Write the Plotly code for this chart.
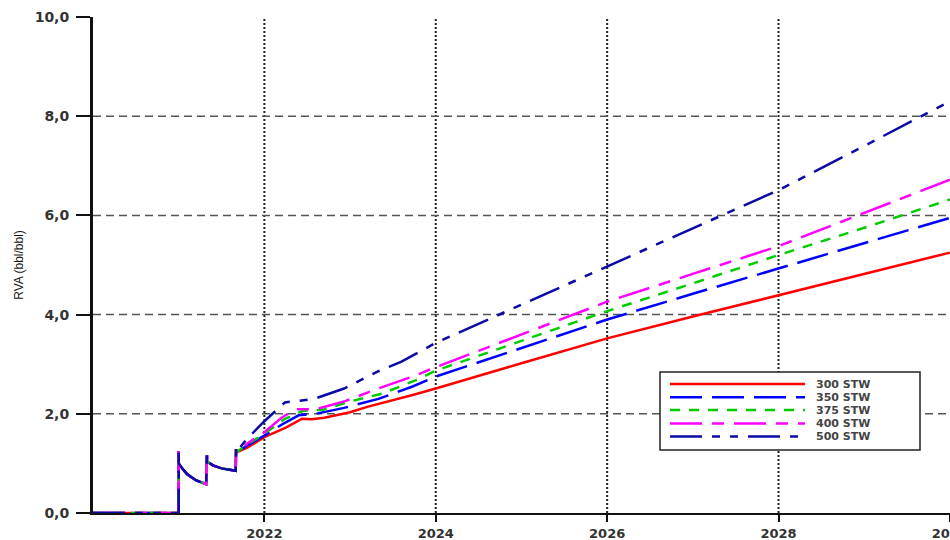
import plotly.graph_objects as go

# ---------------- data ----------------
series_names = ["300 STW", "350 STW", "375 STW", "400 STW", "500 STW"]

# shared start-up part (all cases identical)
early_x = [2020.0, 2021.0, 2021.0, 2021.0, 2021.05, 2021.1, 2021.2, 2021.32,
           2021.33, 2021.33, 2021.4, 2021.5, 2021.665, 2021.67, 2021.67]
early_y = [0.0, 0.0, 1.25, 1.0, 0.88, 0.78, 0.66, 0.58,
           1.17, 1.04, 0.96, 0.9, 0.85, 1.29, 1.22]

x_300 = [2021.8, 2022.0, 2022.25, 2022.44, 2022.55, 2022.7, 2023.0, 2023.2, 2023.73,
         2024, 2025, 2026, 2027, 2028, 2029, 2030]
y_300 = [1.32, 1.53, 1.72, 1.9, 1.89, 1.92, 2.03, 2.14, 2.38,
         2.51, 3.02, 3.52, 3.96, 4.39, 4.82, 5.25]

x_350 = [2021.8, 2022.0, 2022.2, 2022.4, 2022.6, 2022.93, 2023.33, 2023.73,
         2024, 2025, 2026, 2027, 2028, 2029, 2030]
y_350 = [1.36, 1.56, 1.78, 1.97, 2.0, 2.12, 2.3, 2.55,
         2.75, 3.33, 3.9, 4.42, 4.93, 5.43, 5.95]

x_375 = [2021.8, 2022.0, 2022.24, 2022.45, 2022.68, 2022.98, 2023.38, 2023.77,
         2024, 2025, 2026, 2027, 2028, 2029, 2030]
y_375 = [1.38, 1.6, 1.9, 2.06, 2.08, 2.24, 2.41, 2.68,
         2.87, 3.47, 4.07, 4.63, 5.2, 5.75, 6.32]

x_400 = [2021.8, 2022.0, 2022.2, 2022.36, 2022.6, 2022.95, 2023.33, 2023.73,
         2024, 2025, 2026, 2027, 2028, 2029, 2030]
y_400 = [1.4, 1.63, 1.92, 2.09, 2.09, 2.26, 2.51, 2.75,
         2.94, 3.6, 4.26, 4.82, 5.38, 6.05, 6.72]

x_500 = [2021.8, 2022.0, 2022.24, 2022.58, 2022.93, 2023.32, 2023.6, 2023.9,
         2024, 2025, 2026, 2027, 2028, 2029, 2030]
y_500 = [1.5, 1.85, 2.23, 2.3, 2.51, 2.85, 3.05, 3.34,
         3.43, 4.2, 4.97, 5.74, 6.51, 7.4, 8.3]

x_tick_vals = [2022, 2024, 2026, 2028, 2030]
x_tick_text = ["2022", "2024", "2026", "2028", "2030"]
y_tick_vals = [0, 2, 4, 6, 8, 10]
y_title = "RVA (bbl/bbl)"

# ---------------- styles ----------------
colors = ["#ff0000", "#0000ff", "#00cc00", "#ff00ff", "#0a0aa8"]
dashes = ["solid", "32px,10px", "10px,9px", "32px,10px,12px,10px", "32px,10px,8px,10px,8px,10px"]

xs = [x_300, x_350, x_375, x_400, x_500]
ys = [y_300, y_350, y_375, y_400, y_500]

fig = go.Figure()
for name, x, y, c, d in zip(series_names, xs, ys, colors, dashes):
    fig.add_trace(go.Scatter(
        x=early_x + x, y=early_y + y, name=name, mode="lines",
        line=dict(color=c, width=2.5, dash=d), showlegend=False,
    ))

shapes = []
# grid lines
for xv in x_tick_vals[:-1]:
    shapes.append(dict(type="line", xref="x", yref="paper", x0=xv, x1=xv, y0=0, y1=1,
                       line=dict(color="#222222", width=2, dash="2px,2px"), layer="below"))
for yv in y_tick_vals[1:-1]:
    shapes.append(dict(type="line", xref="paper", yref="y", x0=0, x1=1, y0=yv, y1=yv,
                       line=dict(color="#555555", width=1.5, dash="8px,5px"), layer="below"))

# manual legend box
lx0, lx1, ly0, ly1 = 0.6616, 0.965, 0.127, 0.2843
shapes.append(dict(type="rect", xref="paper", yref="paper", x0=lx0, x1=lx1, y0=ly0, y1=ly1,
                   line=dict(color="#222222", width=1.5), fillcolor="white", layer="above"))
annotations = []
row_y = [0.260, 0.2335, 0.2075, 0.1805, 0.1540]
for name, c, d, ry in zip(series_names, colors, dashes, row_y):
    shapes.append(dict(type="line", xref="paper", yref="paper", x0=0.6733, x1=0.8308,
                       y0=ry, y1=ry, line=dict(color=c, width=2.5, dash=d), layer="above"))
    annotations.append(dict(xref="paper", yref="paper", x=0.8413, y=ry, text=name,
                            showarrow=False, xanchor="left", yanchor="middle",
                            font=dict(family="DejaVu Sans", size=11, color="#444444", weight="bold")))

fig.update_layout(
    width=950, height=540,
    margin=dict(l=93, r=0, t=17, b=27, autoexpand=False),
    paper_bgcolor="white", plot_bgcolor="white",
    separators=", ",
    shapes=shapes, annotations=annotations,
    showlegend=False,
    xaxis=dict(range=[2020, 2030.001], tickvals=x_tick_vals, ticktext=x_tick_text,
               automargin=False,
               showgrid=False, zeroline=False, showline=True, linecolor="#111111", linewidth=2,
               ticks="outside", ticklen=7, tickwidth=2, tickcolor="#111111",
               ticklabelstandoff=0, ticklabeloverflow="allow",
               tickfont=dict(family="DejaVu Sans", size=13, color="#333333", weight="bold")),
    yaxis=dict(range=[0, 10], tickvals=y_tick_vals, tickformat=".1f",
               automargin=False,
               showgrid=False, zeroline=False, showline=True, linecolor="#111111", linewidth=3,
               ticks="outside", ticklen=14, tickwidth=2, tickcolor="#111111",
               ticklabelstandoff=4,
               tickfont=dict(family="DejaVu Sans", size=14, color="#333333", weight="bold"),
               title=dict(text=y_title, standoff=9,
                          font=dict(family="Liberation Sans", size=12, color="#111111"))),
)

fig.write_html(
    "out.html",
    config={"displayModeBar": False},
    post_script=(
        "document.documentElement.style.margin='0';"
        "document.documentElement.style.overflow='hidden';"
        "document.body.style.margin='0';"
        "document.body.style.overflow='hidden';"
        "var gd=document.getElementById('{plot_id}');"
        "gd.style.overflow='hidden';"
    ),
)
